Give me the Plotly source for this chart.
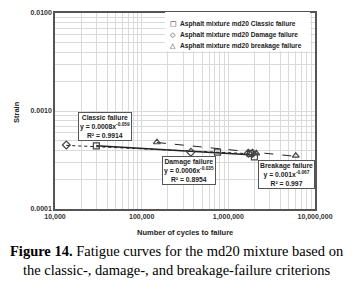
import numpy as np
import plotly.graph_objects as go

# Data
classic_n = [30000, 750000, 1800000, 2000000]
classic_s = [0.00044, 0.00038, 0.00037, 0.00034]
damage_n = [13500, 370000, 1700000, 1900000]
damage_s = [0.00045, 0.00038, 0.00037, 0.00037]
breakage_n = [150000, 2100000, 6000000]
breakage_s = [0.00048, 0.00037, 0.00035]

series_names = ["Asphalt mixture md20 Classic failure",
                "Asphalt mixture md20 Damage failure",
                "Asphalt mixture md20 breakage failure"]
legend_glyphs = ["□", "◇", "△"]
eq_texts = ["Classic failure<br>y = 0.0008x<sup>-0.059</sup><br>R² = 0.9914",
            "Damage failure<br>y = 0.0006x<sup>-0.035</sup><br>R² = 0.8954",
            "Breakage failure<br>y = 0.001x<sup>-0.067</sup><br>R² = 0.997"]
x_decades = [1e4, 1e5, 1e6, 1e7]
x_decade_labels = ["10,000", "100,000", "1,000,000", "10,000,000"]
y_decades = [1e-4, 1e-3, 1e-2]
y_decade_labels = ["0.0001", "0.0010", "0.0100"]
x_title = "Number of cycles to failure"
y_title = "Strain"
caption = ("<b>Figure 14.</b> Fatigue curves for the md20 mixture based on<br>"
           "the classic-, damage-, and breakage-failure criterions")


def log_grid(decades, labels):
    vals, texts = [], []
    for i, d in enumerate(decades):
        vals.append(d)
        texts.append("<b>" + labels[i] + "</b>")
        if i < len(decades) - 1:
            for m in range(2, 10):
                vals.append(d * m)
                texts.append("")
    return vals, texts


xv, xt = log_grid(x_decades, x_decade_labels)
yv, yt = log_grid(y_decades, y_decade_labels)

MK = "#444444"
fig = go.Figure()


def trend(n, s, dash, width):
    ln, ls = np.log10(n), np.log10(s)
    b, a = np.polyfit(ln, ls, 1)
    xs = np.linspace(ln.min(), ln.max(), 30)
    fig.add_trace(go.Scatter(x=10**xs, y=10**(a + b * xs), mode="lines",
                             line=dict(color="#222222", dash=dash, width=width),
                             showlegend=False, hoverinfo="skip"))


trend(damage_n, damage_s, "dot", 1)
trend(classic_n, classic_s, "solid", 1.5)
trend(breakage_n, breakage_s, "dash", 1)

for n, s, sym, name in [(classic_n, classic_s, "square-open", series_names[0]),
                        (damage_n, damage_s, "diamond-open", series_names[1]),
                        (breakage_n, breakage_s, "triangle-up-open", series_names[2])]:
    fig.add_trace(go.Scatter(x=n, y=s, mode="markers", name=name, showlegend=False,
                             marker=dict(symbol=sym, size=6, color=MK,
                                         line=dict(width=1.2, color=MK))))

L, R, T, B = 55, 315, 9, 209
W, H = R - L, B - T
ax_font = dict(family="Liberation Sans", size=7, color="#333333")
fig.update_layout(
    width=354, height=289,
    margin=dict(l=L, r=354 - R, t=T, b=289 - B),
    paper_bgcolor="white", plot_bgcolor="white",
    font=dict(family="Liberation Sans", size=7, color="#222222"),
    showlegend=False,
    xaxis=dict(type="log", range=[4, 7], tickvals=xv, ticktext=xt,
               showgrid=True, gridcolor="#dadada", gridwidth=1,
               showline=True, linecolor="#555555", linewidth=1.5, mirror=True,
               ticks="", tickfont=ax_font, zeroline=False),
    yaxis=dict(type="log", range=[-4, -2], tickvals=yv, ticktext=yt,
               showgrid=True, gridcolor="#dadada", gridwidth=1,
               showline=True, linecolor="#555555", linewidth=1.5, mirror=True,
               ticks="", tickfont=ax_font, zeroline=False),
)


def px(xp, yp):
    return (xp - L) / W, (B - yp) / H


# legend box
lx0, ly0 = px(165, 8)
lx1, ly1 = px(310, 48)
fig.add_shape(type="rect", xref="paper", yref="paper", x0=lx0, y0=ly1, x1=lx1, y1=ly0,
              fillcolor="white", line=dict(width=0), layer="above")
for i, (g, name) in enumerate(zip(legend_glyphs, series_names)):
    yy = 20 + i * 11.5
    gx, gy = px(173, yy)
    fig.add_annotation(xref="paper", yref="paper", x=gx, y=gy, text=g, showarrow=False,
                       xanchor="center", yanchor="middle",
                       font=dict(family="DejaVu Sans", size=7, color="#222222"))
    tx, ty = px(178, yy)
    fig.add_annotation(xref="paper", yref="paper", x=tx, y=ty, text="<b>" + name + "</b>",
                       showarrow=False, xanchor="left", yanchor="middle",
                       font=dict(family="Liberation Sans", size=6.6, color="#222222"))

box_pos = [(105, 124.5), (189, 170), (286, 174)]
for (bx, by), txt in zip(box_pos, eq_texts):
    ax_, ay_ = px(bx, by)
    fig.add_annotation(xref="paper", yref="paper", x=ax_, y=ay_,
                       xanchor="center", yanchor="middle",
                       text="<b>" + txt + "</b>", showarrow=False,
                       font=dict(family="Liberation Sans", size=6.8, color="#222222"),
                       bgcolor="white", bordercolor="#555555", borderwidth=1,
                       borderpad=1, align="center")

tx, ty = px((L + R) / 2, 233)
fig.add_annotation(xref="paper", yref="paper", x=tx, y=ty, text="<b>" + x_title + "</b>",
                   showarrow=False, xanchor="center", yanchor="middle",
                   font=dict(family="Liberation Sans", size=7.5, color="#222222"))
tx, ty = px(17, 110)
fig.add_annotation(xref="paper", yref="paper", x=tx, y=ty, text="<b>" + y_title + "</b>",
                   showarrow=False, textangle=-90, xanchor="center", yanchor="middle",
                   font=dict(family="Liberation Sans", size=7.5, color="#222222"))

cx, cy = px(177, 262)
fig.add_annotation(xref="paper", yref="paper", x=cx, y=cy, text=caption,
                   showarrow=False, align="center", xanchor="center", yanchor="middle",
                   font=dict(family="Liberation Serif", size=14.5, color="black"))

fig.write_html("out.html", config={"displayModeBar": False},
               post_script="document.body.style.margin='0';document.body.style.padding='0';")
